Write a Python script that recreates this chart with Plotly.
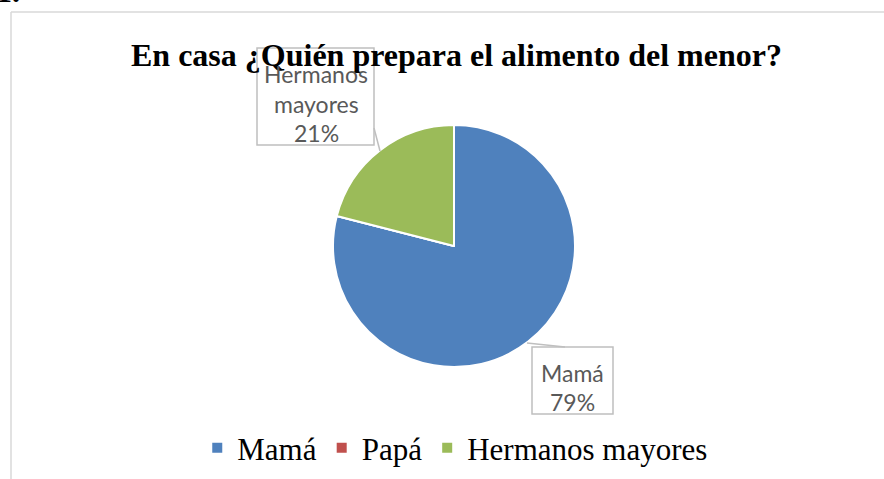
import plotly.graph_objects as go

W, H = 884, 479

categories = ["Mamá", "Papá", "Hermanos mayores"]
values = [79, 0, 21]
colors = ["#4F81BD", "#C0504D", "#9BBB59"]
title_text = "En casa ¿Quién prepara el alimento del menor?"
callout_mama = ["Mamá", "79%"]
callout_herm = ["Hermanos", "mayores", "21%"]


def px(x):
    return x / W


def py(y):
    return 1 - y / H


cx, cy, r = 454, 246, 121

fig = go.Figure()
fig.add_trace(go.Pie(
    labels=categories,
    values=values,
    sort=False,
    direction="clockwise",
    rotation=0,
    marker=dict(colors=colors, line=dict(color="white", width=2)),
    textinfo="none",
    hoverinfo="skip",
    domain=dict(x=[px(cx - r), px(cx + r)], y=[py(cy + r), py(cy - r)]),
    showlegend=True,
))

anns = []
# title
anns.append(dict(text="<b>" + title_text + "</b>", x=px(456), y=py(55), xref="paper", yref="paper",
                 xanchor="center", yanchor="middle", showarrow=False,
                 font=dict(family="Liberation Serif", size=32, color="black")))
# top-left artifact (cut-off heading number)
anns.append(dict(text="<b>1.</b>", x=px(-6), y=py(-29), xref="paper", yref="paper",
                 xanchor="left", yanchor="top", showarrow=False,
                 font=dict(family="Liberation Serif", size=32, color="black")))

lab_font = dict(family="Lato", size=23, color="#595959")
for t, yy in zip(callout_herm, [74, 104, 133]):
    anns.append(dict(text=t, x=px(316), y=py(yy), xref="paper", yref="paper",
                     xanchor="center", yanchor="middle", showarrow=False, font=lab_font))
for t, yy in zip(callout_mama, [373, 402]):
    anns.append(dict(text=t, x=px(572), y=py(yy), xref="paper", yref="paper",
                     xanchor="center", yanchor="middle", showarrow=False, font=lab_font))

box_line = dict(color="#BFBFBF", width=1.5)
shapes = [
    # chart border
    dict(type="line", x0=px(11), x1=px(11), y0=py(12), y1=py(H + 5), xref="paper", yref="paper",
         line=dict(color="#D9D9D9", width=1.5)),
    dict(type="line", x0=px(11), x1=px(W + 5), y0=py(12), y1=py(12), xref="paper", yref="paper",
         line=dict(color="#D9D9D9", width=1.5)),
    # callout boxes
    dict(type="rect", x0=px(257), x1=px(374), y0=py(48), y1=py(145), xref="paper", yref="paper",
         line=box_line),
    dict(type="rect", x0=px(532), x1=px(613), y0=py(347), y1=py(414), xref="paper", yref="paper",
         line=box_line),
    # leader lines
    dict(type="line", x0=px(374), x1=px(380), y0=py(128), y1=py(151), xref="paper", yref="paper",
         line=box_line),
    dict(type="line", x0=px(527), x1=px(565), y0=py(343), y1=py(347), xref="paper", yref="paper",
         line=box_line),
]

fig.update_layout(
    width=W, height=H,
    margin=dict(l=0, r=0, t=0, b=0),
    paper_bgcolor="white",
    plot_bgcolor="white",
    annotations=anns,
    shapes=shapes,
    legend=dict(orientation="h", x=0.515, xanchor="center", y=py(448), yanchor="middle",
                font=dict(family="Liberation Serif", size=31, color="black"),
                itemclick=False, itemdoubleclick=False),
)

fig.write_html("out.html", config={"displayModeBar": False},
               post_script="document.body.style.margin='0px';document.body.style.overflow='hidden';")
